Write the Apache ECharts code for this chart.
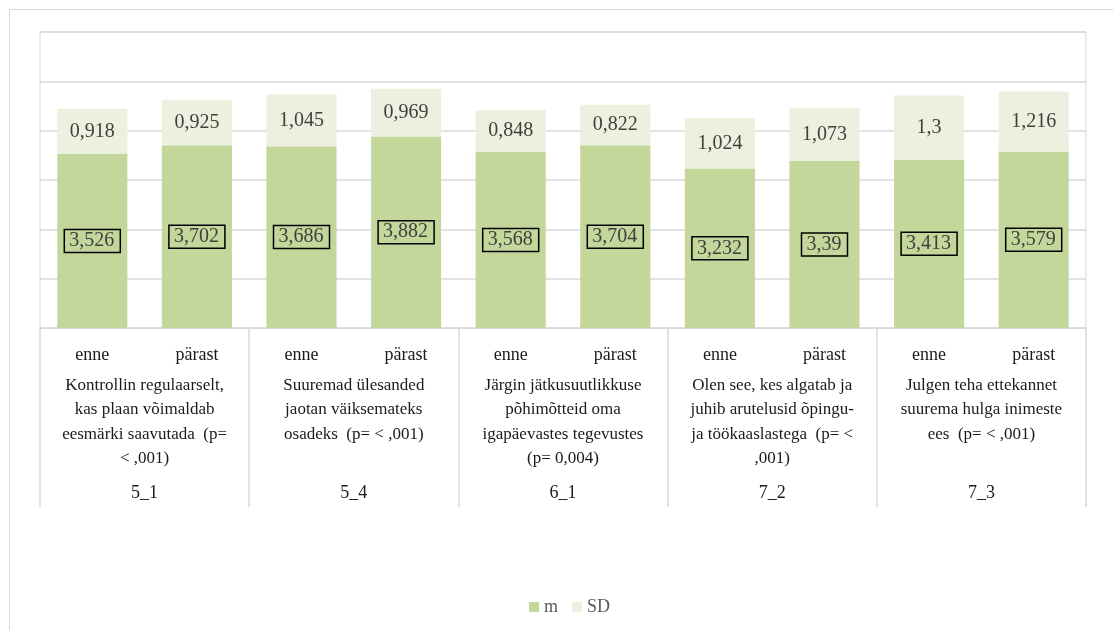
<!DOCTYPE html>
<html>
<head>
<meta charset="utf-8">
<script src="https://cdn.jsdelivr.net/npm/echarts@6/dist/echarts.min.js"></script>
<style>html,body{margin:0;padding:0;background:#fff}#c{width:1113px;height:630px}</style>
</head>
<body>
<div id="c"></div>
<script>
const periods = ["enne","pärast","enne","pärast","enne","pärast","enne","pärast","enne","pärast"];
const groupLabels = [
  "Kontrollin regulaarselt,\nkas plaan võimaldab\neesmärki saavutada  (p=\n< ,001)",
  "Suuremad ülesanded\njaotan väiksemateks\nosadeks  (p= < ,001)",
  "Järgin jätkusuutlikkuse\npõhimõtteid oma\nigapäevastes tegevustes\n(p= 0,004)",
  "Olen see, kes algatab ja\njuhib arutelusid õpingu-\nja töökaaslastega  (p= <\n,001)",
  "Julgen teha ettekannet\nsuurema hulga inimeste\nees  (p= < ,001)"
];
const codes = ["5_1","5_4","6_1","7_2","7_3"];
const mValues = [3.526, 3.702, 3.686, 3.882, 3.568, 3.704, 3.232, 3.39, 3.413, 3.579];
const sdValues = [0.918, 0.925, 1.045, 0.969, 0.848, 0.822, 1.024, 1.073, 1.3, 1.216];

const FONT = "'Liberation Serif', 'Times New Roman', serif";
const fmt = v => String(v).replace('.', ',');
const chart = echarts.init(document.getElementById('c'));
chart.setOption({
  animation: false,
  textStyle: { fontFamily: FONT },
  graphic: [{
    type: 'rect', shape: { x: 9.5, y: 9.5, width: 1200, height: 700 },
    style: { fill: 'none', stroke: '#D9D9D9', lineWidth: 1 }, silent: true
  }],
  grid: { left: 40, right: 27, top: 32, bottom: 302, show: true, borderColor: '#D9D9D9', borderWidth: 1 },
  legend: {
    bottom: 9, left: 524, itemWidth: 10, itemHeight: 10, itemGap: 14,
    textStyle: { color: '#595959', fontSize: 18, fontFamily: FONT },
    data: [{ name: 'm', icon: 'rect' }, { name: 'SD', icon: 'rect' }]
  },
  xAxis: [
    {
      type: 'category', data: periods, position: 'bottom',
      axisLine: { show: true, lineStyle: { color: '#D9D9D9' } },
      axisTick: { show: false },
      axisLabel: { interval: 0, margin: 15, fontSize: 18, lineHeight: 24, color: '#1a1a1a', fontFamily: FONT }
    },
    {
      type: 'category', data: groupLabels, position: 'bottom',
      axisLine: { show: false },
      axisTick: { show: true, interval: 0, length: 179, lineStyle: { color: '#D9D9D9', width: 1.5 } },
      axisLabel: { interval: 0, margin: 45, fontSize: 17, lineHeight: 24.5, color: '#1a1a1a', fontFamily: FONT, align: 'center' }
    },
    {
      type: 'category', data: codes, position: 'bottom',
      axisLine: { show: false }, axisTick: { show: false },
      axisLabel: { interval: 0, margin: 153, fontSize: 18, lineHeight: 24, color: '#1a1a1a', fontFamily: FONT }
    }
  ],
  yAxis: {
    type: 'value', min: 0, max: 6, interval: 1,
    axisLabel: { show: false }, axisLine: { show: false }, axisTick: { show: false },
    splitLine: { lineStyle: { color: '#D9D9D9', width: 1.5 } }
  },
  series: [
    {
      name: 'm', type: 'bar', stack: 'a', xAxisIndex: 0, data: mValues,
      barCategoryGap: '33%',
      itemStyle: { color: '#C4D79B' },
      label: {
        show: true, position: 'inside', formatter: p => fmt(p.value),
        fontSize: 20, color: '#404040', fontFamily: FONT,
        borderColor: '#000', borderWidth: 1.5, padding: [2, 6, 0, 5], lineHeight: 21
      }
    },
    {
      name: 'SD', type: 'bar', stack: 'a', xAxisIndex: 0, data: sdValues,
      itemStyle: { color: '#EBF1DE' },
      label: {
        show: true, position: 'inside', formatter: p => fmt(p.value),
        fontSize: 20, color: '#404040', fontFamily: FONT
      }
    }
  ]
});
</script>
</body>
</html>
